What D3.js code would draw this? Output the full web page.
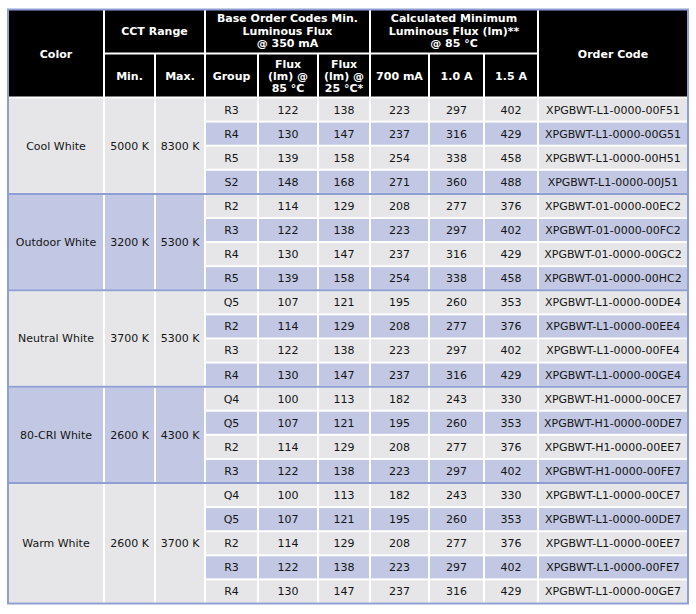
<!DOCTYPE html>
<html>
<head>
<meta charset="utf-8">
<script src="https://cdn.jsdelivr.net/npm/d3@7"></script>
<style>
  body { margin: 0; background: #fff; }
  svg { display: block; font-family: "DejaVu Sans", Verdana, sans-serif; }
</style>
</head>
<body>
<svg id="chart" width="696" height="614"></svg>
<script>
// color groups
const colorNames = ["Cool White", "Outdoor White", "Neutral White", "80-CRI White", "Warm White"];
const cctMin = ["5000 K", "3200 K", "3700 K", "2600 K", "2600 K"];
const cctMax = ["8300 K", "5300 K", "5300 K", "4300 K", "3700 K"];

// one entry per row
const rowColor = [0,0,0,0, 1,1,1,1, 2,2,2,2, 3,3,3,3, 4,4,4,4,4];
const binGroup = ["R3","R4","R5","S2", "R2","R3","R4","R5", "Q5","R2","R3","R4", "Q4","Q5","R2","R3", "Q4","Q5","R2","R3","R4"];
const flux85 = [122,130,139,148, 114,122,130,139, 107,114,122,130, 100,107,114,122, 100,107,114,122,130];
const flux25 = [138,147,158,168, 129,138,147,158, 121,129,138,147, 113,121,129,138, 113,121,129,138,147];
const flux700 = [223,237,254,271, 208,223,237,254, 195,208,223,237, 182,195,208,223, 182,195,208,223,237];
const flux1000 = [297,316,338,360, 277,297,316,338, 260,277,297,316, 243,260,277,297, 243,260,277,297,316];
const flux1500 = [402,429,458,488, 376,402,429,458, 353,376,402,429, 330,353,376,402, 330,353,376,402,429];
const orderCodes = [
  "XPGBWT-L1-0000-00F51","XPGBWT-L1-0000-00G51","XPGBWT-L1-0000-00H51","XPGBWT-L1-0000-00J51",
  "XPGBWT-01-0000-00EC2","XPGBWT-01-0000-00FC2","XPGBWT-01-0000-00GC2","XPGBWT-01-0000-00HC2",
  "XPGBWT-L1-0000-00DE4","XPGBWT-L1-0000-00EE4","XPGBWT-L1-0000-00FE4","XPGBWT-L1-0000-00GE4",
  "XPGBWT-H1-0000-00CE7","XPGBWT-H1-0000-00DE7","XPGBWT-H1-0000-00EE7","XPGBWT-H1-0000-00FE7",
  "XPGBWT-L1-0000-00CE7","XPGBWT-L1-0000-00DE7","XPGBWT-L1-0000-00EE7","XPGBWT-L1-0000-00FE7","XPGBWT-L1-0000-00GE7"
];

// header labels
const topHeaders = [
  { lines: ["Color"], from: 0, to: 1, full: true },
  { lines: ["CCT Range"], from: 1, to: 3 },
  { lines: ["Base Order Codes Min.", "Luminous Flux", "@ 350 mA"], from: 3, to: 6 },
  { lines: ["Calculated Minimum", "Luminous Flux (lm)**", "@ 85 °C"], from: 6, to: 9 },
  { lines: ["Order Code"], from: 9, to: 10, full: true }
];
const subHeaders = [
  { lines: ["Min."], col: 1 },
  { lines: ["Max."], col: 2 },
  { lines: ["Group"], col: 3 },
  { lines: ["Flux", "(lm) @", "85 °C"], col: 4 },
  { lines: ["Flux", "(lm) @", "25 °C*"], col: 5 },
  { lines: ["700 mA"], col: 6 },
  { lines: ["1.0 A"], col: 7 },
  { lines: ["1.5 A"], col: 8 }
];

// layout
const colEdges = [8, 104, 155, 205, 258, 318, 370, 429, 484, 538, 688];
const tableTop = 9.5, headMid = 53.5, headBottom = 97.5, tableBottom = 603.5;
const gap = 1;
const gray = "#e6e6e8", blue = "#c2c8e3", border = "#8f9ed3";

const nRows = binGroup.length;
const y = d3.scaleLinear().domain([0, nRows]).range([headBottom, tableBottom]);
const x = d3.scaleOrdinal().domain(d3.range(colEdges.length)).range(colEdges);

const svg = d3.select("#chart");
svg.append("rect").attr("x", colEdges[0]).attr("y", tableTop)
  .attr("width", colEdges[10] - colEdges[0]).attr("height", tableBottom - tableTop)
  .attr("fill", "#fff");

function cell(c0, c1, y0, y1, fill) {
  svg.append("rect")
    .attr("x", x(c0) + gap).attr("y", y0 + gap)
    .attr("width", x(c1) - x(c0) - 2 * gap).attr("height", y1 - y0 - 2 * gap)
    .attr("fill", fill);
}

function label(lines, cx, cy, opts) {
  const lh = 12.4;
  const t = svg.append("text")
    .attr("text-anchor", "middle")
    .attr("font-size", 11)
    .attr("font-weight", opts.bold ? "bold" : "normal")
    .attr("fill", opts.color);
  lines.forEach((s, i) => {
    t.append("tspan").attr("x", cx)
      .attr("y", cy + (i - (lines.length - 1) / 2) * lh)
      .attr("dy", "0.36em").text(s);
  });
}

// header
topHeaders.forEach(h => {
  const y1 = h.full ? headBottom : headMid;
  const cy = h.full ? (tableTop + y1) / 2 + 0.5 : (tableTop + y1) / 2 - 0.8;
  cell(h.from, h.to, tableTop - 1, y1, "#000");
  label(h.lines, (x(h.from) + x(h.to)) / 2, cy, { bold: true, color: "#fff" });
});
subHeaders.forEach(h => {
  cell(h.col, h.col + 1, headMid, headBottom, "#000");
  label(h.lines, (x(h.col) + x(h.col + 1)) / 2, (headMid + headBottom) / 2 + 0.5, { bold: true, color: "#fff" });
});

// row cells
const rowCols = [binGroup, flux85, flux25, flux700, flux1000, flux1500, orderCodes];
d3.range(nRows).forEach(r => {
  const idx = r - rowColor.indexOf(rowColor[r]);
  const fill = idx % 2 === 0 ? gray : blue;
  rowCols.forEach((arr, k) => {
    const c = k + 3;
    cell(c, c + 1, y(r), y(r + 1), fill);
    label([String(arr[r])], (x(c) + x(c + 1)) / 2, (y(r) + y(r + 1)) / 2, { color: "#151515" });
  });
});

// merged color-group cells
const groupBounds = colorNames.map((_, g) => [rowColor.indexOf(g), rowColor.lastIndexOf(g) + 1]);
groupBounds.forEach(([r0, r1], g) => {
  const fill = g % 2 === 0 ? gray : blue;
  const cy = (y(r0) + y(r1)) / 2;
  [colorNames, cctMin, cctMax].forEach((arr, c) => {
    cell(c, c + 1, y(r0), y(r1), fill);
    label([arr[g]], (x(c) + x(c + 1)) / 2, cy, { color: "#151515" });
  });
});

// group separators
groupBounds.slice(1).forEach(([r0]) => {
  svg.append("line")
    .attr("x1", colEdges[0]).attr("x2", colEdges[10])
    .attr("y1", y(r0)).attr("y2", y(r0))
    .attr("stroke", border).attr("stroke-width", 2);
});

// outer border
svg.append("rect").attr("x", colEdges[0]).attr("y", tableTop)
  .attr("width", colEdges[10] - colEdges[0]).attr("height", tableBottom - tableTop)
  .attr("fill", "none").attr("stroke", border).attr("stroke-width", 2);
</script>
</body>
</html>
